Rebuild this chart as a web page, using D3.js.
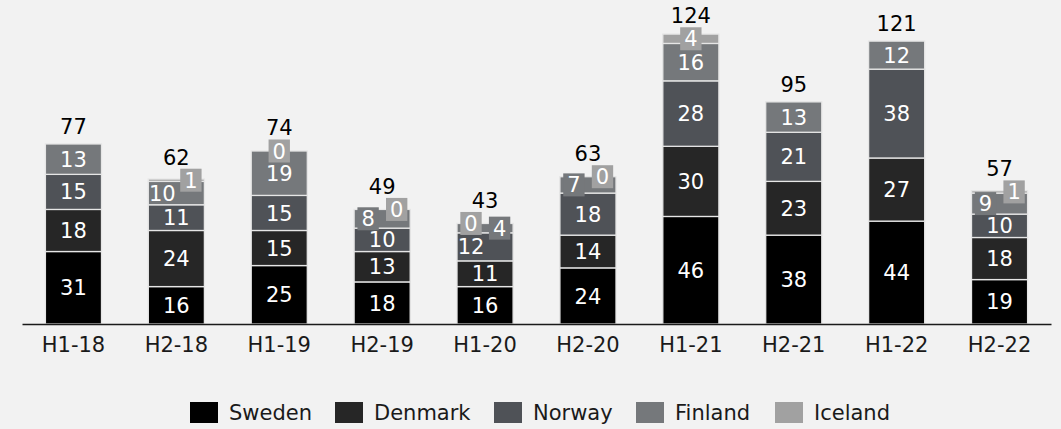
<!DOCTYPE html>
<html>
<head>
<meta charset="utf-8">
<script src="https://cdn.jsdelivr.net/npm/d3@7"></script>
<style>
  html, body { margin: 0; padding: 0; background: #f2f2f2; }
  svg { display: block; }
  text { font-family: "DejaVu Sans", Verdana, sans-serif; }
</style>
</head>
<body>
<svg id="chart" width="1061" height="429"></svg>
<script>
// Half-year periods
const categories = ["H1-18", "H2-18", "H1-19", "H2-19", "H1-20", "H2-20", "H1-21", "H2-21", "H1-22", "H2-22"];

// Values per country, stacked bottom to top
const sweden  = [31, 16, 25, 18, 16, 24, 46, 38, 44, 19];
const denmark = [18, 24, 15, 13, 11, 14, 30, 23, 27, 18];
const norway  = [15, 11, 15, 10, 12, 18, 28, 21, 38, 10];
const finland = [13, 10, 19,  8,  4,  7, 16, 13, 12,  9];
const iceland = [ 0,  1,  0,  0,  0,  0,  4,  0,  0,  1];

// Period totals shown above each bar
const totals = [77, 62, 74, 49, 43, 63, 124, 95, 121, 57];

const seriesNames = ["Sweden", "Denmark", "Norway", "Finland", "Iceland"];
const seriesValues = [sweden, denmark, norway, finland, iceland];
const colors = ["#000000", "#262626", "#4f5257", "#75787b", "#a1a1a1"];

// Label placement inside each bar: c = centred, l = left, r = right, null = no label
const placement = {
  Sweden:  categories.map(() => "c"),
  Denmark: categories.map(() => "c"),
  Norway:  ["c", "c", "c", "c", "l", "c", "c", "c", "c", "c"],
  Finland: ["c", "l", "c", "l", "r", "l", "c", "c", "c", "l"],
  Iceland: [null, "r", "c", "r", "l", "r", "c", null, null, "r"]
};

const rows = categories.map((cat, i) => {
  const r = { cat };
  seriesNames.forEach((s, k) => { r[s] = seriesValues[k][i]; });
  return r;
});

const svg = d3.select("#chart");
const axisY = 324;

const x = d3.scaleBand()
  .domain(categories)
  .range([22, 1051])
  .paddingInner(0.455)
  .paddingOuter(0.2275);

const y = d3.scaleLinear()
  .domain([0, 130])
  .range([axisY, axisY - 130 * 2.338]);

const stack = d3.stack().keys(seriesNames);
const layers = stack(rows);

const fontSize = 21;
const boxH = 23;
const digitW = fontSize * 0.636;

// Bars
const gBars = svg.append("g");
layers.forEach((layer, k) => {
  gBars.selectAll(null)
    .data(layer)
    .join("rect")
    .attr("x", d => x(d.data.cat))
    .attr("y", d => y(d[1]))
    .attr("width", x.bandwidth())
    .attr("height", d => Math.max(0, y(d[0]) - y(d[1])))
    .attr("fill", colors[k])
    .attr("stroke", "#e6e6e6")
    .attr("stroke-width", 1.3);
});

// Segment labels
const gLabels = svg.append("g");
const boxTops = categories.map((c, i) => y(totals[i]));
layers.forEach((layer, k) => {
  const name = seriesNames[k];
  layer.forEach((d, i) => {
    const where = placement[name][i];
    if (!where) return;
    const v = d[1] - d[0];
    const x0 = x(d.data.cat), x1 = x0 + x.bandwidth();
    const cy = (y(d[0]) + y(d[1])) / 2;
    let cx;
    if (where === "l") cx = x0 + 14;
    else if (where === "r") cx = x1 - 13.5;
    else cx = (x0 + x1) / 2;
    const segH = y(d[0]) - y(d[1]);
    const label = String(v);
    if (segH < boxH) {
      const w = label.length * digitW + 8;
      gLabels.append("rect")
        .attr("x", cx - w / 2)
        .attr("y", cy - boxH / 2)
        .attr("width", w)
        .attr("height", boxH)
        .attr("fill", colors[k]);
      boxTops[i] = Math.min(boxTops[i], cy - boxH / 2);
    }
    gLabels.append("text")
      .attr("x", cx)
      .attr("y", cy)
      .attr("dy", "0.36em")
      .attr("text-anchor", "middle")
      .attr("fill", "#ffffff")
      .attr("font-size", fontSize)
      .text(label);
  });
});

// Totals above bars
svg.append("g").selectAll("text")
  .data(categories)
  .join("text")
  .attr("x", c => x(c) + x.bandwidth() / 2)
  .attr("y", (c, i) => Math.min(y(totals[i]) - 10, boxTops[i] - 4))
  .attr("text-anchor", "middle")
  .attr("fill", "#000000")
  .attr("font-size", fontSize)
  .text((c, i) => totals[i]);

// Category axis
const xAxis = d3.axisBottom(x).tickSize(0).tickPadding(13);
const gx = svg.append("g")
  .attr("transform", `translate(0,${axisY})`)
  .call(xAxis);
gx.select(".domain").attr("stroke", "#1a1a1a").attr("stroke-width", 1.5);
gx.selectAll("text")
  .attr("font-size", fontSize)
  .attr("font-family", "DejaVu Sans, Verdana, sans-serif")
  .attr("fill", "#1a1a1a");

// Legend
const legendX = [190, 335, 494, 636, 775];
const legend = svg.append("g");
seriesNames.forEach((s, k) => {
  const g = legend.append("g").attr("transform", `translate(${legendX[k]},402)`);
  g.append("rect").attr("width", 28).attr("height", 21).attr("fill", colors[k]);
  g.append("text")
    .attr("x", 39)
    .attr("y", 10.5)
    .attr("dy", "0.36em")
    .attr("font-size", fontSize)
    .attr("fill", "#1a1a1a")
    .text(s);
});
</script>
</body>
</html>
